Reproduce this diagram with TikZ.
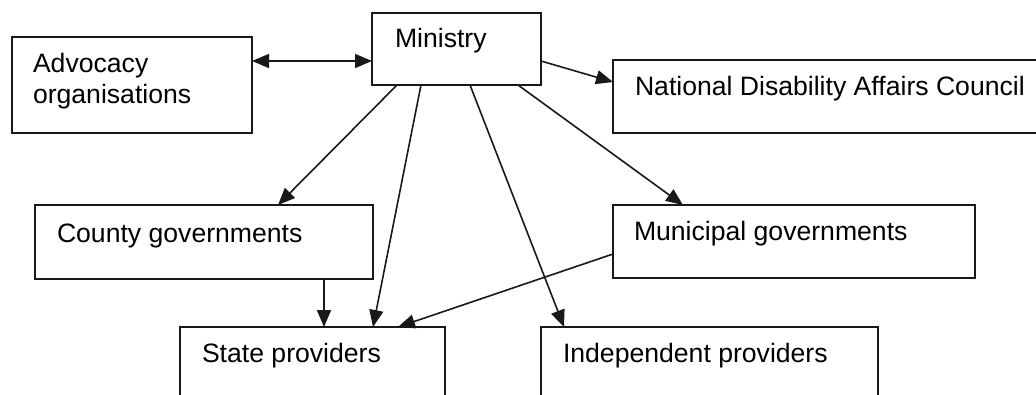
\documentclass[tikz,border=0pt]{standalone}
\usepackage{fontspec}
\setmainfont{Liberation Sans}
\usetikzlibrary{arrows.meta}
\begin{document}
\begin{tikzpicture}[x=1pt,y=-1pt,
  box/.style={draw=black!90, line width=1.6pt, inner sep=0pt, outer sep=0pt, anchor=north west, fill=white},
  lbl/.style={inner sep=0pt, outer sep=0pt, anchor=base west, align=left,
    font=\fontsize{26.6}{30.5}\selectfont, text=black},
  conn/.style={draw=black!90, line width=1.6pt, -{Triangle[length=17pt,width=14pt]}},
  dconn/.style={draw=black!90, line width=1.6pt, {Triangle[length=17pt,width=14pt]}-{Triangle[length=17pt,width=14pt]}}]
\useasboundingbox (0,0) rectangle (1036,394);
\clip (0,0) rectangle (1036,394);
% boxes
\node[box, minimum width=240pt, minimum height=96pt] (adv) at (12,37) {};
\node[box, minimum width=169pt, minimum height=72pt] (min) at (372,13) {};
\node[box, minimum width=450pt, minimum height=73pt] (ndac) at (613,60) {};
\node[box, minimum width=338pt, minimum height=74pt] (cty) at (35,205) {};
\node[box, minimum width=362pt, minimum height=73pt] (mun) at (613,205) {};
\node[box, minimum width=265pt, minimum height=90pt] (st) at (180,327) {};
\node[box, minimum width=337pt, minimum height=90pt] (ind) at (541,327) {};
% labels
\node[lbl] (advt) at ([xshift=21pt,yshift=-66pt]adv.north west) {Advocacy\\organisations};
\node[lbl] (mint) at ([xshift=23pt,yshift=-34pt]min.north west) {Ministry};
\node[lbl] (ndact) at ([xshift=22pt,yshift=-35pt]ndac.north west) {National Disability Affairs Council};
\node[lbl] (ctyt) at ([xshift=22pt,yshift=-37pt]cty.north west) {County governments};
\node[lbl] (munt) at ([xshift=21pt,yshift=-35pt]mun.north west) {Municipal governments};
\node[lbl] (stt) at ([xshift=22pt,yshift=-35pt]st.north west) {State providers};
\node[lbl] (indt) at ([xshift=22pt,yshift=-35pt]ind.north west) {Independent providers};
% connectors
\draw[dconn] ([yshift=-24pt]adv.north east) -- ([yshift=-48pt]min.north west);
\draw[conn] ([yshift=-48pt]min.north east) -- ([yshift=-22pt]ndac.north west);
\draw[conn] ([xshift=25pt]min.south west) -- ([xshift=243pt]cty.north west);
\draw[conn] ([xshift=49pt]min.south west) -- ([xshift=193pt]st.north west);
\draw[conn] ([xshift=98pt]min.south west) -- ([xshift=23pt]ind.north west);
\draw[conn] ([xshift=146pt]min.south west) -- ([xshift=70pt]mun.north west);
\draw[conn] ([xshift=289pt]cty.south west) -- ([xshift=144pt]st.north west);
\draw[conn] ([yshift=-49pt]mun.north west) -- ([xshift=218pt]st.north west);
\end{tikzpicture}
\end{document}
